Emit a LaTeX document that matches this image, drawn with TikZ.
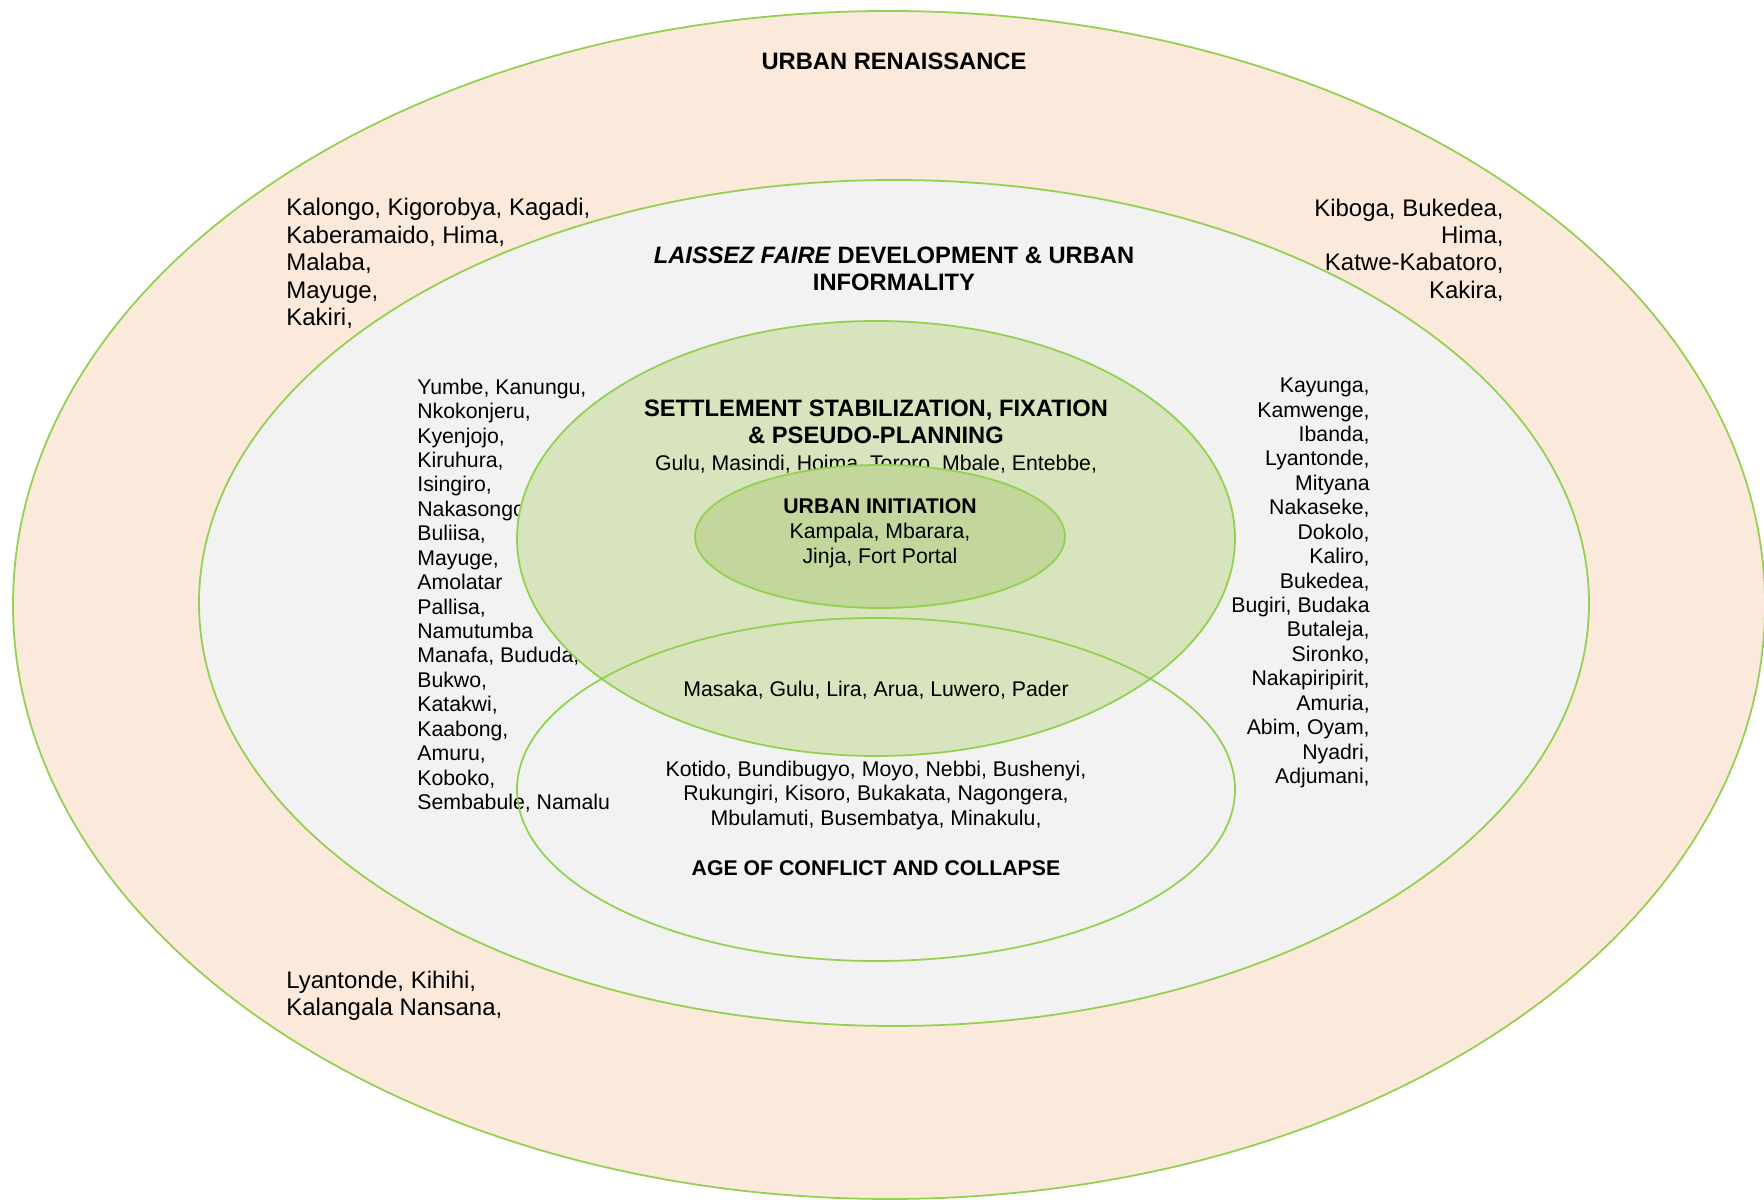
\documentclass[tikz,border=0pt]{standalone}
\usepackage{fontspec}
\setmainfont{Liberation Sans}
\definecolor{ringline}{HTML}{92D050}
\definecolor{renfill}{HTML}{FBE9DB}
\definecolor{laisfill}{HTML}{F2F2F2}
\definecolor{setfill}{HTML}{D7E4BD}
\definecolor{initfill}{HTML}{C3D69B}
\begin{document}
\begin{tikzpicture}[
  ring/.style={draw=ringline,line width=1pt},
  towns/.style={inner sep=0pt,font=\fontsize{12.1}{13.9}\selectfont},
  bigtowns/.style={inner sep=0pt,font=\fontsize{13.65}{15.6}\selectfont},
  phase/.style={inner sep=0pt,align=center,font=\fontsize{13.5}{15.5}\selectfont\bfseries},
  smallphase/.style={inner sep=0pt,align=center,font=\fontsize{12.1}{14.2}\selectfont\bfseries}]
\useasboundingbox (0,0) rectangle (35.28,24);
\fill[white] (0,0) rectangle (35.28,24);
% rings
\draw[ring,fill=renfill] (17.78,11.9) ellipse [x radius=17.52, y radius=11.88];
\draw[ring,fill=laisfill] (17.88,11.94) ellipse [x radius=13.9, y radius=8.46];
\node[phase] (renaissance) at (17.88,22.78) {URBAN RENAISSANCE};
\node[bigtowns,anchor=west,align=left] (rentl) at (5.72,18.73) {Kalongo, Kigorobya, Kagadi,\\Kaberamaido, Hima,\\Malaba,\\Mayuge,\\Kakiri,};
\node[bigtowns,anchor=east,align=right] (rentr) at (30.08,19.0) {Kiboga, Bukedea,\\Hima,\\Katwe-Kabatoro,\\Kakira,};
\node[bigtowns,anchor=west,align=left] (renbl) at (5.72,4.08) {Lyantonde, Kihihi,\\Kalangala Nansana,};
\node[phase] (laissez) at (17.88,18.62) {\textit{LAISSEZ FAIRE} DEVELOPMENT \& URBAN\\INFORMALITY};
\node[towns,anchor=west,align=left] (laisleft) at (8.34,12.09) {Yumbe, Kanungu,\\Nkokonjeru,\\Kyenjojo,\\Kiruhura,\\Isingiro,\\Nakasongo,\\Buliisa,\\Mayuge,\\Amolatar\\Pallisa,\\Namutumba\\Manafa, Bududa,\\Bukwo,\\Katakwi,\\Kaabong,\\Amuru,\\Koboko,\\Sembabule, Namalu};
\node[towns,anchor=east,align=right] (laisright) at (27.4,12.34) {Kayunga,\\Kamwenge,\\Ibanda,\\Lyantonde,\\Mityana\\Nakaseke,\\Dokolo,\\Kaliro,\\Bukedea,\\Bugiri, Budaka\\Butaleja,\\Sironko,\\Nakapiripirit,\\Amuria,\\Abim, Oyam,\\Nyadri,\\Adjumani,};
\draw[ring,fill=setfill] (17.52,13.23) ellipse [x radius=7.18, y radius=4.35];
\node[phase] (settlement) at (17.52,15.57) {SETTLEMENT STABILIZATION, FIXATION\\\& PSEUDO-PLANNING};
\node[towns] (settowns) at (17.52,14.72) {Gulu, Masindi, Hoima, Tororo, Mbale, Entebbe,};
\draw[ring,fill=initfill] (17.6,13.27) ellipse [x radius=3.7, y radius=1.43];
\node[smallphase] (initiation) at (17.6,13.34) {URBAN INITIATION\\\mdseries Kampala, Mbarara,\\\mdseries Jinja, Fort Portal};
\draw[ring] (17.52,8.21) ellipse [x radius=7.18, y radius=3.43];
\node[towns] (overlap) at (17.52,10.2) {Masaka, Gulu, Lira, Arua, Luwero, Pader};
\node[towns,align=center] (conftowns) at (17.52,8.09) {Kotido, Bundibugyo, Moyo, Nebbi, Bushenyi,\\Rukungiri, Kisoro, Bukakata, Nagongera,\\Mbulamuti, Busembatya, Minakulu,};
\node[smallphase] (conflict) at (17.52,6.64) {AGE OF CONFLICT AND COLLAPSE};
\end{tikzpicture}
\end{document}
